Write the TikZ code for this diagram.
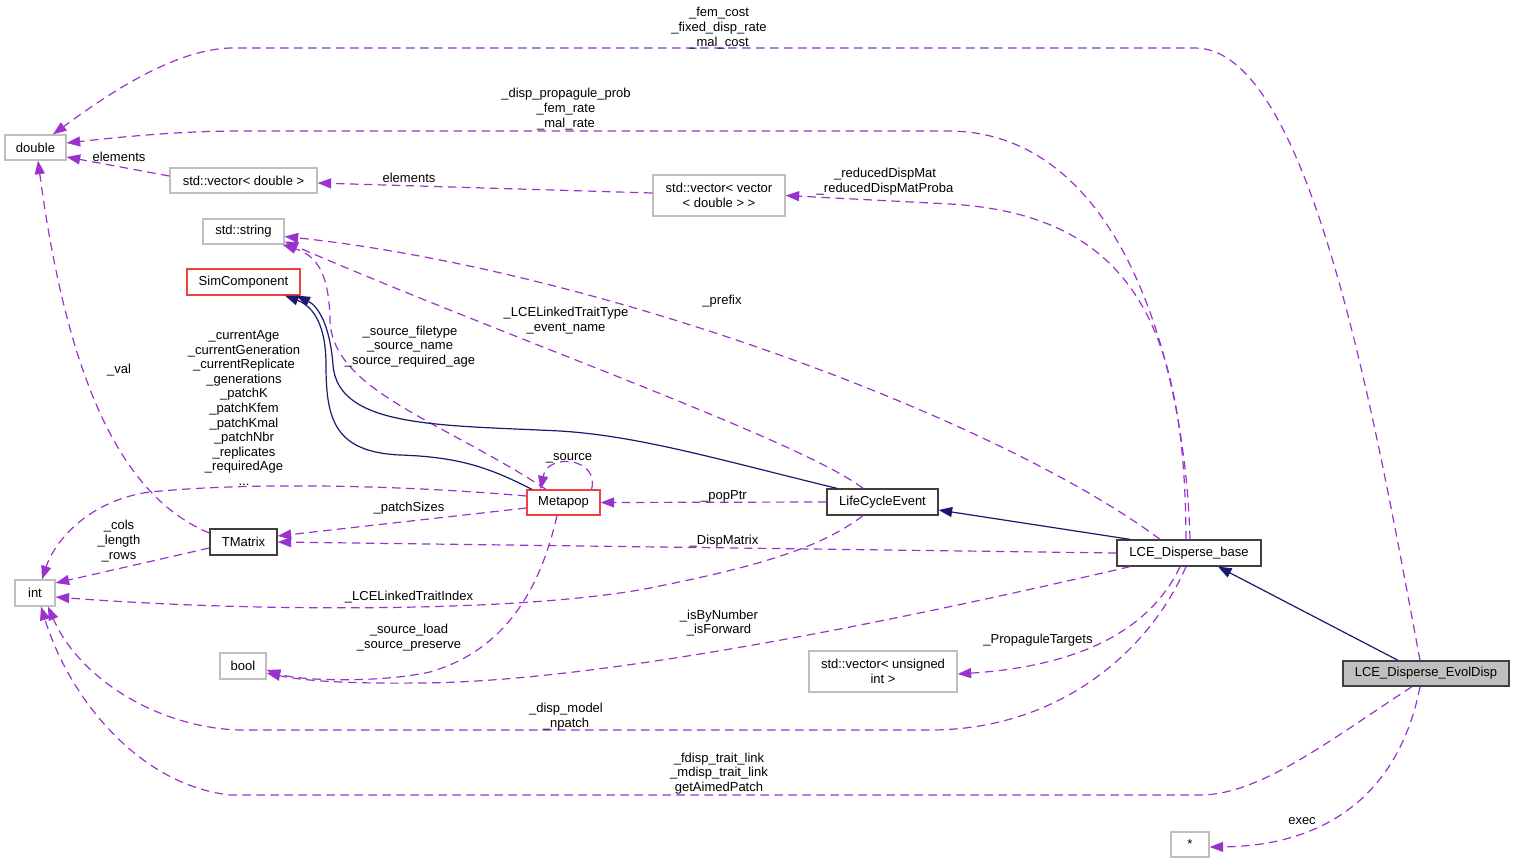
\documentclass[tikz,border=0pt]{standalone}
\usepackage{fontspec}
\setmainfont{Liberation Sans}
\usetikzlibrary{arrows.meta}
\definecolor{edgep}{HTML}{9A32CD}
\definecolor{inh}{HTML}{191970}
\definecolor{boxgray}{HTML}{BFBFBF}
\definecolor{boxred}{HTML}{F04040}
\definecolor{boxdark}{HTML}{404040}
\definecolor{fillgray}{HTML}{BFBFBF}
\tikzset{
 every node/.style={font=\fontsize{13}{14.6}\selectfont},
 cls/.style={draw, fill=white, line width=1.3pt, inner sep=0pt, align=center},
 extbox/.style={cls, draw=boxgray},
 redbox/.style={cls, draw=boxred},
 blkbox/.style={cls, draw=boxdark},
 usage/.style={draw=edgep, line width=1.2pt, dash pattern=on 8.5pt off 5.5pt, -{Triangle[length=13.5pt,width=10pt]}},
 inher/.style={draw=inh, line width=1.2pt, -{Triangle[length=13.5pt,width=10pt]}},
 lbl/.style={inner sep=0pt, align=center, yshift=-2pt},
}
\begin{document}
\begin{tikzpicture}[x=1pt,y=-1pt]
\useasboundingbox (0,0) rectangle (1515,864);
% nodes
\node[extbox, minimum width=61pt, minimum height=25pt] (double) at (35.5,147.5) {double};
\node[extbox, minimum width=147pt, minimum height=25pt] (vecd) at (243.5,180.5) {std::vector< double >};
\node[extbox, minimum width=132pt, minimum height=41pt] (vecvec) at (719,195.5) {std::vector< vector\\< double > >};
\node[extbox, minimum width=81pt, minimum height=25pt] (str) at (243.5,231.5) {std::string};
\node[redbox, minimum width=113pt, minimum height=26pt] (simc) at (243.5,282) {SimComponent};
\node[redbox, minimum width=73pt, minimum height=25pt] (metapop) at (563.5,502.5) {Metapop};
\node[blkbox, minimum width=111pt, minimum height=26pt] (lce) at (882.5,502) {LifeCycleEvent};
\node[blkbox, minimum width=67pt, minimum height=26pt] (tmatrix) at (243.5,542) {TMatrix};
\node[blkbox, minimum width=144pt, minimum height=26pt] (base) at (1189,553) {LCE\_Disperse\_base};
\node[extbox, minimum width=40pt, minimum height=26pt] (int) at (35,593) {int};
\node[extbox, minimum width=46pt, minimum height=26pt] (bool) at (243,666) {bool};
\node[extbox, minimum width=148pt, minimum height=41pt] (vecu) at (883,671.5) {std::vector< unsigned\\int >};
\node[blkbox, fill=fillgray, minimum width=166pt, minimum height=25pt] (evol) at (1426,673.5) {LCE\_Disperse\_EvolDisp};
\node[extbox, minimum width=38pt, minimum height=25pt] (star) at (1190,844.5) {*};

% edges
\draw[usage] ([xshift=-6pt]evol.north) .. controls (1375,420) and (1310,48) .. (1195,48) -- (230,48) .. controls (170,50) and (100,100) .. ([xshift=17.5pt]double.north);
\draw[usage] ([xshift=1pt]base.north) .. controls (1185,360) and (1120,133) .. (950,131) -- (240,131) .. controls (180,131) and (120,137) .. ([yshift=4.5pt]double.east);
\draw[usage] ([yshift=4.5pt]vecd.west) -- ([yshift=-9.5pt]double.east);
\draw[usage] ([yshift=2.5pt]vecvec.west) -- ([yshift=-2.5pt]vecd.east);
\draw[usage] ([xshift=-3pt]base.north) .. controls (1185,330) and (1135,215) .. (950,204) -- (vecvec.east);
\draw[usage] ([xshift=-29pt]base.north) .. controls (1000,420) and (600,270) .. ([yshift=-5pt]str.east);
\draw[usage] ([xshift=-19.5pt]lce.north) .. controls (800,440) and (500,335) .. ([yshift=-10pt]str.east);
\draw[usage] ([xshift=-17.5pt]metapop.north) .. controls (440,420) and (332,390) .. (330,320) .. controls (329,275) and (318,256) .. ([xshift=-2pt]str.south east);
\draw[inher] ([xshift=-31.5pt]metapop.north) .. controls (490,468) and (460,457) .. (400,455) .. controls (335,452) and (326,420) .. (326,365) .. controls (326,320) and (310,305) .. ([xshift=41.5pt]simc.south);
\draw[inher] ([xshift=-45.5pt]lce.north) .. controls (720,460) and (640,436) .. (560,431) .. controls (440,425) and (338,428) .. (333,365) .. controls (330,325) and (318,306) .. ([xshift=53pt]simc.south);
\draw[usage] ([xshift=28pt]metapop.north) .. controls (600,458) and (548,452) .. ([xshift=-23pt]metapop.north);
\draw[usage] (lce.west) -- (metapop.east);
\draw[usage] ([yshift=6.5pt]metapop.west) .. controls (400,485) and (250,482) .. (150,492) .. controls (90,500) and (55,540) .. ([xshift=7pt]int.north);
\draw[usage] ([yshift=-5.5pt]metapop.west) -- ([yshift=6pt]tmatrix.east);
\draw[usage] (base.west) -- (tmatrix.east);
\draw[usage] ([yshift=9pt]tmatrix.west) .. controls (130,500) and (70,400) .. ([xshift=2.5pt]double.south);
\draw[usage] ([yshift=-6pt]tmatrix.west) -- ([yshift=10pt]int.east);
\draw[usage] ([xshift=-19.5pt]lce.south) .. controls (820,548) and (760,566) .. (650,588) .. controls (520,613) and (250,612) .. ([yshift=-4pt]int.east);
\draw[usage] ([xshift=-59pt]base.south) .. controls (900,620) and (600,682) .. (420,683) .. controls (330,684) and (295,679) .. ([yshift=-7pt]bool.east);
\draw[usage] ([xshift=-6.5pt]metapop.south) .. controls (540,590) and (505,650) .. (430,672) .. controls (380,683) and (300,681) .. ([yshift=-4pt]bool.east);
\draw[usage] ([xshift=-9pt]base.south) .. controls (1150,630) and (1080,666) .. ([yshift=-2.5pt]vecu.east);
\draw[usage] ([xshift=-3pt]base.south) .. controls (1150,650) and (1060,730) .. (930,730) -- (240,730) .. controls (160,728) and (80,680) .. ([xshift=13pt]int.south);
\draw[usage] ([xshift=-14pt]evol.south) .. controls (1330,740) and (1260,795) .. (1200,795) -- (230,795) .. controls (140,785) and (70,700) .. ([xshift=6pt]int.south);
\draw[usage] ([xshift=-6pt]evol.south) .. controls (1400,790) and (1330,846) .. ([yshift=-2.5pt]star.east);
\draw[inher] ([xshift=-28pt]evol.north) -- ([xshift=29pt]base.south);
\draw[inher] ([xshift=-59pt]base.north) -- ([yshift=-8pt]lce.east);

% labels
\node[lbl] (l1) at (719,26) {\_fem\_cost\\\_fixed\_disp\_rate\\\_mal\_cost};
\node[lbl] (l2) at (566,107) {\_disp\_propagule\_prob\\\_fem\_rate\\\_mal\_rate};
\node[lbl] (l3) at (119,155) {elements};
\node[lbl] (l4) at (409,176) {elements};
\node[lbl] (l5) at (885,179.5) {\_reducedDispMat\\\_reducedDispMatProba};
\node[lbl] (l6) at (722,299) {\_prefix};
\node[lbl] (l7) at (566,318.5) {\_LCELinkedTraitType\\\_event\_name};
\node[lbl] (l8) at (410,344.5) {\_source\_filetype\\\_source\_name\\\_source\_required\_age};
\node[lbl] (l9) at (244,406) {\_currentAge\\\_currentGeneration\\\_currentReplicate\\\_generations\\\_patchK\\\_patchKfem\\\_patchKmal\\\_patchNbr\\\_replicates\\\_requiredAge\\...};
\node[lbl] (l10) at (119,368) {\_val};
\node[lbl] (l11) at (569,456) {\_source};
\node[lbl] (l12) at (724,494) {\_popPtr};
\node[lbl] (l13) at (409,506) {\_patchSizes};
\node[lbl] (l14) at (119,539) {\_cols\\\_length\\\_rows};
\node[lbl] (l15) at (724,539) {\_DispMatrix};
\node[lbl] (l16) at (409,595) {\_LCELinkedTraitIndex};
\node[lbl] (l17) at (719,621) {\_isByNumber\\\_isForward};
\node[lbl] (l18) at (409,635.5) {\_source\_load\\\_source\_preserve};
\node[lbl] (l19) at (1038,638) {\_PropaguleTargets};
\node[lbl] (l20) at (566,714.5) {\_disp\_model\\\_npatch};
\node[lbl] (l21) at (719,771.5) {\_fdisp\_trait\_link\\\_mdisp\_trait\_link\\getAimedPatch};
\node[lbl] (l22) at (1302,819) {exec};
\end{tikzpicture}
\end{document}
